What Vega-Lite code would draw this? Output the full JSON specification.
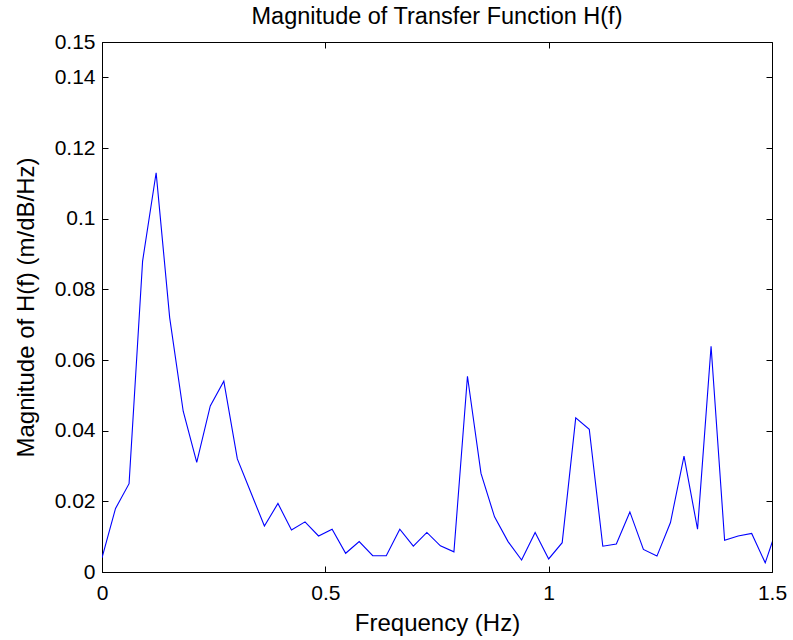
{
  "$schema": "https://vega.github.io/schema/vega-lite/v6.json",
  "width": 670,
  "height": 530,
  "autosize": {"type": "none"},
  "padding": {"left": 102, "top": 42, "right": 21, "bottom": 68},
  "background": "white",
  "config": {
    "view": {"stroke": "black", "strokeWidth": 1},
    "font": "Liberation Sans",
    "axis": {
      "grid": false,
      "domainColor": "black",
      "tickColor": "black",
      "labelColor": "black",
      "titleColor": "black",
      "labelFont": "Liberation Sans",
      "titleFont": "Liberation Sans",
      "labelFontSize": 21,
      "titleFontSize": 24,
      "titleFontWeight": "normal",
      "tickSize": -6,
      "labelFlush": false,
      "labelOverlap": false
    }
  },
  "title": {
    "text": "Magnitude of Transfer Function H(f)",
    "fontSize": 23.5,
    "fontWeight": "normal",
    "font": "Liberation Sans",
    "color": "black",
    "offset": 3
  },
  "data": {
    "values": [
      {"f": 0, "v": 0.004},
      {"f": 0.0303, "v": 0.018},
      {"f": 0.0606, "v": 0.025},
      {"f": 0.0909, "v": 0.088},
      {"f": 0.1212, "v": 0.113},
      {"f": 0.1515, "v": 0.072},
      {"f": 0.1818, "v": 0.0455},
      {"f": 0.2121, "v": 0.031},
      {"f": 0.2424, "v": 0.047},
      {"f": 0.2727, "v": 0.054},
      {"f": 0.303, "v": 0.032},
      {"f": 0.3333, "v": 0.0225},
      {"f": 0.3636, "v": 0.013},
      {"f": 0.3939, "v": 0.0194},
      {"f": 0.4242, "v": 0.0119},
      {"f": 0.4545, "v": 0.0142},
      {"f": 0.4848, "v": 0.0102},
      {"f": 0.5152, "v": 0.0121},
      {"f": 0.5455, "v": 0.0053},
      {"f": 0.5758, "v": 0.0086},
      {"f": 0.6061, "v": 0.0046},
      {"f": 0.6364, "v": 0.0046},
      {"f": 0.6667, "v": 0.0121},
      {"f": 0.697, "v": 0.0073},
      {"f": 0.7273, "v": 0.0112},
      {"f": 0.7576, "v": 0.0074},
      {"f": 0.7879, "v": 0.0057},
      {"f": 0.8182, "v": 0.0554},
      {"f": 0.8485, "v": 0.0279},
      {"f": 0.8788, "v": 0.0156},
      {"f": 0.9091, "v": 0.0086},
      {"f": 0.9394, "v": 0.0034},
      {"f": 0.9697, "v": 0.0112},
      {"f": 1.0, "v": 0.0037},
      {"f": 1.0303, "v": 0.0083},
      {"f": 1.0606, "v": 0.0436},
      {"f": 1.0909, "v": 0.0404},
      {"f": 1.1212, "v": 0.0073},
      {"f": 1.1515, "v": 0.0079},
      {"f": 1.1818, "v": 0.017},
      {"f": 1.2121, "v": 0.0064},
      {"f": 1.2424, "v": 0.0045},
      {"f": 1.2727, "v": 0.014},
      {"f": 1.303, "v": 0.0328},
      {"f": 1.3333, "v": 0.0121},
      {"f": 1.3636, "v": 0.0639},
      {"f": 1.3939, "v": 0.009},
      {"f": 1.4242, "v": 0.0102},
      {"f": 1.4545, "v": 0.0109},
      {"f": 1.4848, "v": 0.0026},
      {"f": 1.5152, "v": 0.014}
    ]
  },
  "layer": [
    {
      "mark": {"type": "line", "color": "#0000ff", "strokeWidth": 1.1, "clip": true},
      "encoding": {
        "x": {
          "field": "f",
          "type": "quantitative",
          "scale": {"domain": [0, 1.5], "nice": false, "zero": false},
          "axis": {
            "values": [0, 0.5, 1, 1.5],
            "format": "~g",
            "title": "Frequency (Hz)",
            "labelPadding": 16,
            "titlePadding": 8
          }
        },
        "y": {
          "field": "v",
          "type": "quantitative",
          "scale": {"domain": [0, 0.15], "nice": false},
          "axis": {
            "values": [0, 0.02, 0.04, 0.06, 0.08, 0.1, 0.12, 0.14, 0.15],
            "format": "~g",
            "title": "Magnitude of H(f) (m/dB/Hz)",
            "labelPadding": 13,
            "titlePadding": 16
          }
        }
      }
    },
    {
      "mark": {"type": "line", "opacity": 0, "clip": true},
      "encoding": {
        "x": {
          "field": "f",
          "type": "quantitative",
          "scale": {"domain": [0, 1.5], "nice": false, "zero": false},
          "axis": {"orient": "top", "values": [0, 0.5, 1, 1.5], "labels": false, "title": null, "domain": false}
        },
        "y": {
          "field": "v",
          "type": "quantitative",
          "scale": {"domain": [0, 0.15], "nice": false},
          "axis": {"orient": "right", "values": [0, 0.02, 0.04, 0.06, 0.08, 0.1, 0.12, 0.14, 0.15], "labels": false, "title": null, "domain": false}
        }
      }
    }
  ],
  "resolve": {"scale": {"x": "independent", "y": "independent"}}
}
